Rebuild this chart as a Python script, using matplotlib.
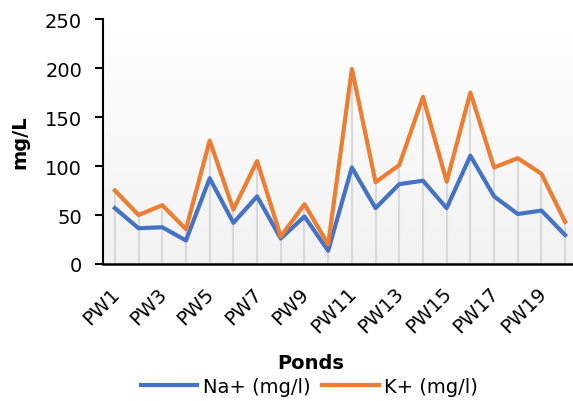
import numpy as np
import matplotlib
matplotlib.use("Agg")
import matplotlib.pyplot as plt
import matplotlib.transforms as mtransforms

# === Data ===
ponds = [f"PW{i}" for i in range(1, 21)]
na_vals = [57, 36.5, 37.5, 24, 87.5, 42, 69, 26, 48.5, 13.5,
           98.5, 57, 81.5, 85, 57, 110.5, 69, 51, 54.5, 29.5]
k_vals = [75, 50, 60, 35.5, 126, 55.5, 105, 28, 61, 20,
          199, 83.5, 101, 170.5, 84, 175, 98.5, 108, 92, 43]

plt.rcParams["font.family"] = ["DejaVu Sans"]

fig = plt.figure(figsize=(5.73, 4.02), dpi=100)
ax = fig.add_axes([0.1798, 0.3408, 0.8272, 0.6094])

x = np.arange(len(ponds))

# gradient background (white at top -> light grey at bottom)
grad = np.linspace(1.0, 0.0, 256).reshape(-1, 1)
ax.imshow(grad, extent=[0, 1, 0, 1], transform=ax.transAxes, aspect="auto",
          cmap=matplotlib.colors.LinearSegmentedColormap.from_list(
              "g", ["#f2f2f2", "#ffffff"]), zorder=0)

# drop lines
ax.vlines(x, 0, np.maximum(na_vals, k_vals), color="#d9d9d9", lw=1.5, zorder=1)

ax.plot(x, na_vals, color="#4472C4", lw=3, label="Na+ (mg/l)", zorder=3)
ax.plot(x, k_vals, color="#ED7D31", lw=3, label="K+ (mg/l)", zorder=3)

ax.set_xlim(-0.5, len(ponds) - 0.5)
ax.set_ylim(0, 250)
ax.set_yticks(range(0, 251, 50))
ax.set_xticks(x[::2])
ax.set_xticklabels(ponds[::2], rotation=45, ha="right", rotation_mode="anchor",
                   fontsize=14)
ax.tick_params(axis="x", length=0, pad=14)
ax.tick_params(axis="y", labelsize=14, length=6, width=1.5, pad=9)

# nudge x labels a little left
offset = mtransforms.ScaledTranslation(-5 / 100, 0, fig.dpi_scale_trans)
for lbl in ax.get_xticklabels():
    lbl.set_transform(lbl.get_transform() + offset)

for s in ["top", "right"]:
    ax.spines[s].set_visible(False)
ax.spines["left"].set_linewidth(1.5)
ax.spines["bottom"].set_linewidth(1.8)

ax.set_ylabel("mg/L", fontsize=14, fontweight="bold")
ax.yaxis.set_label_coords(-0.155, 0.5)
fig.text(0.542, 0.097, "Ponds", ha="center", va="center", fontsize=14,
         fontweight="bold")
fig.legend(loc="center", bbox_to_anchor=(0.54, 0.037), ncol=2, frameon=False,
           fontsize=14, handlelength=2.9, columnspacing=0.6, handletextpad=0.3)

plt.savefig("out.png")
plt.close()
